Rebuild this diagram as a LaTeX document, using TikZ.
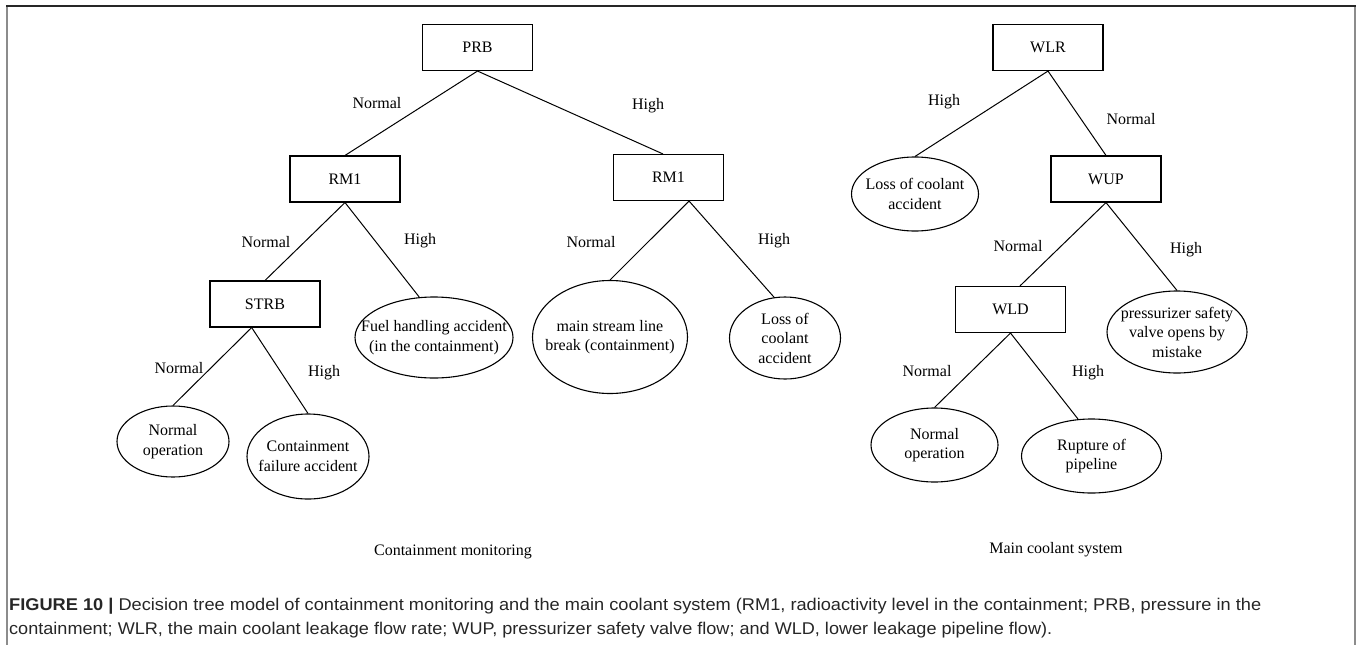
\documentclass[tikz,border=0pt]{standalone}
\usepackage{fontspec}
\usepackage{graphicx}
\setmainfont{Liberation Serif}
\newfontfamily\capfont{Liberation Sans}
\usetikzlibrary{shapes.geometric,calc}

\begin{document}
\begin{tikzpicture}[x=1pt,y=-1pt,
  decision/.style={draw,line width=1.1pt,rectangle,minimum width=110pt,minimum height=46pt,
    inner sep=0pt,font=\fontsize{16}{20}\selectfont},
  outcome/.style={draw,line width=1.1pt,ellipse,inner sep=0pt},
  outtext/.style={inner sep=0pt,align=center,font=\fontsize{16}{19.5}\selectfont},
  branch/.style={line width=1pt},
  lbl/.style={font=\fontsize{16}{20}\selectfont,inner sep=0pt,text height=11pt,text depth=0pt},
  title/.style={font=\fontsize{16}{20}\selectfont,inner sep=0pt},
  frameline/.style={line width=1.4pt},
  captionline/.style={anchor=base west,inner sep=0pt,text=black!85,
    font=\capfont\fontsize{17}{20}\selectfont},
]
\useasboundingbox (0,0) rectangle (1359,645);

% outer frame (open at the bottom)
\draw[frameline,black!45] (7,6) -- (7,645);
\draw[frameline,black!45] (1355,6) -- (1355,645);
\draw[frameline,black!85] (6,6) -- (1356,6);

% ---------------- containment monitoring tree ----------------
\node[decision] (prb)  at (477.5,47.5) {PRB};
\node[decision] (rm1a) at (345,179)    {RM1};
\node[decision] (rm1b) at (668.5,177.5){RM1};
\node[decision] (strb) at (265,304)    {STRB};

\node[outcome,minimum width=158pt,minimum height=81pt] (fuel) at (434,337.5)
  {}; \node[outtext] (fueltxt) at (fuel.center) {Fuel handling accident\\(in the containment)};
\node[outcome,minimum width=155pt,minimum height=113pt] (stream) at (610,337)
  {}; \node[outtext] (streamtxt) at (stream.center) {main stream line\\break (containment)};
\node[outcome,minimum width=111pt,minimum height=82pt] (loca1) at (785,338)
  {}; \node[outtext] (loca1txt) at (loca1.center) {Loss of\\coolant\\accident};
\node[outcome,minimum width=112pt,minimum height=71pt] (normop1) at (173,441.5)
  {}; \node[outtext] (normop1txt) at (normop1.center) {Normal\\operation};
\node[outcome,minimum width=122pt,minimum height=85pt] (cfail) at (308,456.5)
  {}; \node[outtext] (cfailtxt) at (cfail.center) {Containment\\failure accident};

\draw[branch] (prb.south) -- (rm1a.north);
\draw[branch] (prb.south) -- ($(rm1b.north west)!0.45!(rm1b.north east)$);
\draw[branch] (rm1a.south) -- (strb.north);
\draw[branch] (rm1a.south) -- (fuel.110);
\draw[branch] ($(rm1b.south west)!0.685!(rm1b.south east)$) -- (stream.north);
\draw[branch] ($(rm1b.south west)!0.685!(rm1b.south east)$) -- (loca1.105);
\draw[branch] ($(strb.south west)!0.38!(strb.south east)$) -- (normop1.north);
\draw[branch] ($(strb.south west)!0.38!(strb.south east)$) -- (cfail.north);

\node[lbl] (l1) at (377,103) {Normal};
\node[lbl] (l2) at (648,104) {High};
\node[lbl] (l3) at (266,242) {Normal};
\node[lbl] (l4) at (420,239) {High};
\node[lbl] (l5) at (591,242) {Normal};
\node[lbl] (l6) at (774,239) {High};
\node[lbl] (l7) at (179,368) {Normal};
\node[lbl] (l8) at (324,371) {High};

\node[title] (t1) at (453,552) {Containment monitoring};

% ---------------- main coolant system tree ----------------
\node[decision] (wlr) at (1048,47.5)  {WLR};
\node[decision] (wup) at (1106,179)   {WUP};
\node[decision] (wld) at (1010.5,309.5) {WLD};

\node[outcome,minimum width=127pt,minimum height=74pt] (loca2) at (915,194)
  {}; \node[outtext] (loca2txt) at (loca2.center) {Loss of coolant\\accident};
\node[outcome,minimum width=140pt,minimum height=82pt] (press) at (1177,332)
  {}; \node[outtext] (presstxt) at (press.center) {pressurizer safety\\valve opens by\\mistake};
\node[outcome,minimum width=127pt,minimum height=74pt] (normop2) at (934.5,445)
  {}; \node[outtext] (normop2txt) at (normop2.center) {Normal\\operation};
\node[outcome,minimum width=140pt,minimum height=74pt] (rupture) at (1091.5,456)
  {}; \node[outtext] (rupturetxt) at (rupture.center) {Rupture of\\pipeline};

\draw[branch] (wlr.south) -- (loca2.north);
\draw[branch] (wlr.south) -- (wup.north);
\draw[branch] (wup.south) -- ($(wld.north west)!0.585!(wld.north east)$);
\draw[branch] (wup.south) -- (press.north);
\draw[branch] (wld.south) -- (normop2.north);
\draw[branch] (wld.south) -- (rupture.110);

\node[lbl] (r1) at (944,100)  {High};
\node[lbl] (r2) at (1131,119) {Normal};
\node[lbl] (r3) at (1018,246) {Normal};
\node[lbl] (r4) at (1186,248) {High};
\node[lbl] (r5) at (927,371)  {Normal};
\node[lbl] (r6) at (1088,371) {High};

\node[title] (t2) at (1056,550) {Main coolant system};

% ---------------- caption (each line stretched to its set width) ----------------
\node[captionline] (cap1) at (9,610.5)
  {\resizebox{1252pt}{\height}{\textbf{FIGURE 10 |} Decision tree model of containment monitoring and the main coolant system (RM1, radioactivity level in the containment; PRB, pressure in the}};
\node[captionline] (cap2) at (9,634.5)
  {\resizebox{1043pt}{\height}{containment; WLR, the main coolant leakage flow rate; WUP, pressurizer safety valve flow; and WLD, lower leakage pipeline flow).}};
\end{tikzpicture}
\end{document}
